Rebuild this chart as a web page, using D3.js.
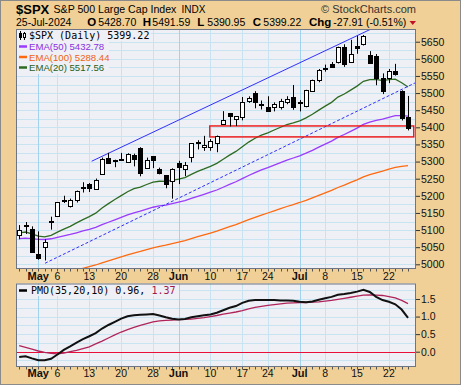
<!DOCTYPE html>
<meta charset="utf-8">
<style>
body { margin: 0; }
text { font-family: "Liberation Sans", Arial, sans-serif; }
.mono { font-family: "DejaVu Sans Mono", monospace; }
</style>
<svg width="461" height="385"></svg>
<script src="https://cdn.jsdelivr.net/npm/d3@7/dist/d3.min.js"></script>
<script>

// trading days shown
var dates = ["2024-04-26","2024-04-29","2024-04-30",
  "2024-05-01","2024-05-02","2024-05-03","2024-05-06","2024-05-07","2024-05-08","2024-05-09","2024-05-10",
  "2024-05-13","2024-05-14","2024-05-15","2024-05-16","2024-05-17","2024-05-20","2024-05-21","2024-05-22",
  "2024-05-23","2024-05-24","2024-05-28","2024-05-29","2024-05-30","2024-05-31",
  "2024-06-03","2024-06-04","2024-06-05","2024-06-06","2024-06-07","2024-06-10","2024-06-11","2024-06-12",
  "2024-06-13","2024-06-14","2024-06-17","2024-06-18","2024-06-20","2024-06-21","2024-06-24","2024-06-25",
  "2024-06-26","2024-06-27","2024-06-28",
  "2024-07-01","2024-07-02","2024-07-03","2024-07-05","2024-07-08","2024-07-09","2024-07-10","2024-07-11",
  "2024-07-12","2024-07-15","2024-07-16","2024-07-17","2024-07-18","2024-07-19","2024-07-22","2024-07-23",
  "2024-07-24","2024-07-25"]

var open = [5084.65,5114.13,5103.78,5029.03,5049.32,5122.78,5142.42,5187.20,5168.98,5189.03,5225.49,
  5233.08,5221.10,5263.26,5310.07,5303.10,5305.35,5298.69,5319.28,5340.26,5281.45,5315.91,5278.73,
  5259.77,5243.21,5297.15,5278.24,5314.48,5357.80,5343.81,5341.22,5353.00,5409.13,5441.93,5424.08,
  5431.11,5476.15,5499.99,5466.77,5459.58,5460.73,5460.71,5473.59,5488.48,5471.08,5461.84,5507.44,
  5537.91,5572.75,5584.24,5591.26,5635.21,5590.76,5638.16,5644.09,5610.07,5608.56,5543.37,5544.26,
  5565.30,5505.84,5428.70]
var high = [5114.62,5123.49,5110.83,5096.12,5073.21,5139.12,5181.00,5200.23,5191.95,5215.30,5239.66,
  5237.26,5250.37,5311.76,5325.49,5305.45,5325.32,5324.32,5323.18,5341.88,5311.65,5315.91,5282.27,
  5260.21,5280.33,5302.11,5298.80,5354.16,5362.35,5375.08,5365.79,5375.95,5447.25,5441.93,5432.39,
  5488.50,5490.38,5505.53,5478.31,5490.66,5472.88,5483.14,5490.81,5523.64,5479.55,5509.69,5539.27,
  5570.33,5583.11,5590.75,5635.39,5642.45,5655.56,5666.94,5669.67,5622.49,5614.05,5557.50,5570.36,
  5585.34,5508.04,5491.59]
var low = [5073.14,5088.65,5035.31,5013.45,5011.05,5101.22,5142.42,5178.96,5165.86,5180.41,5209.68,
  5211.16,5217.98,5263.26,5296.19,5283.59,5302.40,5297.87,5286.01,5256.93,5278.39,5280.89,5262.70,
  5222.10,5191.68,5234.32,5257.63,5297.64,5335.36,5331.33,5331.52,5327.25,5409.13,5402.51,5403.75,
  5420.40,5471.32,5455.56,5452.03,5447.59,5446.56,5451.87,5467.54,5451.12,5446.53,5458.43,5507.42,
  5531.63,5562.51,5574.57,5586.44,5576.53,5590.44,5614.75,5639.02,5584.81,5522.81,5497.04,5529.04,
  5550.90,5419.98,5390.95]
var close = [5099.96,5116.17,5035.69,5018.39,5064.20,5127.79,5180.74,5187.70,5187.67,5214.08,5222.68,
  5221.42,5246.68,5308.15,5297.10,5303.27,5308.13,5321.41,5307.01,5267.84,5304.72,5306.04,5266.95,
  5235.48,5277.51,5283.40,5291.34,5354.03,5352.96,5346.99,5360.79,5375.32,5421.03,5433.74,5431.60,
  5473.23,5487.03,5473.17,5464.62,5447.87,5469.30,5477.90,5482.87,5460.48,5475.09,5509.01,5537.02,
  5567.19,5572.85,5576.98,5633.91,5584.54,5615.35,5631.22,5667.20,5588.27,5544.59,5505.00,5564.41,
  5555.74,5427.13,5399.22]

var ema20 = [5092.0,5094.3,5088.7,5082.0,5080.3,5084.8,5094.0,5102.9,5110.9,5120.8,5130.5,5139.1,
  5149.4,5164.5,5177.1,5189.1,5200.4,5212.0,5221.0,5225.5,5233.0,5240.0,5242.5,5241.9,5245.3,5248.9,
  5253.0,5262.6,5271.2,5278.4,5286.2,5294.7,5306.7,5318.8,5329.6,5343.2,5356.9,5368.0,5377.2,5383.9,
  5392.1,5400.2,5408.1,5413.1,5419.0,5427.6,5438.0,5450.3,5462.0,5472.9,5488.2,5497.4,5508.6,5520.3,
  5534.3,5539.4,5539.9,5536.6,5539.2,5540.8,5530.0,5517.56]
var ema50 = [5075.0,5076.6,5075.0,5072.8,5072.5,5074.6,5078.8,5083.1,5087.2,5092.1,5097.3,5102.1,
  5107.8,5115.7,5122.8,5129.8,5136.8,5144.1,5150.5,5155.1,5160.9,5166.6,5170.6,5173.1,5177.2,5181.4,
  5185.7,5192.3,5198.6,5204.4,5210.5,5217.0,5225.0,5233.2,5241.0,5250.1,5259.4,5267.8,5275.5,5282.2,
  5289.6,5297.0,5304.3,5310.4,5316.9,5324.4,5332.8,5342.0,5351.0,5359.9,5370.6,5379.0,5388.3,5397.8,
  5408.4,5415.4,5420.5,5423.8,5429.3,5434.3,5434.0,5432.78]
var ema100 = [4955.0,4958.2,4959.7,4960.9,4962.9,4966.2,4970.4,4974.7,4979.0,4983.6,4988.3,4993.0,
  4998.0,5004.1,5009.9,5015.7,5021.5,5027.5,5033.0,5037.7,5042.9,5048.2,5052.5,5056.1,5060.5,5064.9,
  5069.4,5075.1,5080.6,5085.8,5091.3,5096.9,5103.3,5109.9,5116.2,5123.3,5130.5,5137.3,5143.7,5149.8,
  5156.1,5162.5,5168.8,5174.6,5180.5,5187.0,5194.0,5201.4,5208.7,5216.0,5224.3,5231.4,5239.0,5246.8,
  5255.1,5261.7,5267.3,5272.0,5277.8,5283.3,5286.2,5288.44]

var pmo = [-0.15,-0.13,-0.19,-0.24,-0.24,-0.20,-0.08,0.05,0.15,0.26,0.36,0.44,0.53,0.66,0.76,0.85,
  0.94,1.01,1.04,1.05,1.06,1.07,1.03,0.98,0.94,0.92,0.93,0.98,1.01,1.04,1.06,1.11,1.18,1.25,1.30,
  1.39,1.45,1.47,1.47,1.47,1.47,1.46,1.46,1.45,1.42,1.41,1.43,1.48,1.52,1.56,1.62,1.64,1.67,1.71,
  1.76,1.70,1.56,1.47,1.42,1.35,1.20,0.96]
var pmoSignal = [0.17,0.12,0.07,0.02,-0.02,-0.05,-0.06,-0.04,0.00,0.04,0.09,0.14,0.22,0.30,0.39,0.48,
  0.56,0.63,0.69,0.75,0.80,0.85,0.88,0.89,0.90,0.91,0.92,0.93,0.95,0.97,1.00,1.03,1.07,1.10,1.13,
  1.17,1.22,1.26,1.29,1.32,1.34,1.36,1.38,1.39,1.40,1.40,1.41,1.42,1.44,1.46,1.49,1.52,1.55,1.58,
  1.61,1.62,1.61,1.60,1.57,1.53,1.46,1.37]

// annotations drawn on the chart: [day index, price]
var upperTrend = [[11.37, 5301], [56.0, 5694]]
var lowerTrend = [[4.05, 5003], [62.25, 5531]]
var supportZone = {from: 29.9, to: 61.9, lo: 5372, hi: 5404}

var priceTicks = [5000,5050,5100,5150,5200,5250,5300,5350,5400,5450,5500,5550,5600,5650]
var pmoTicks = [0.0, 0.5, 1.0, 1.5]
var dateTicks = [
  {d: "2024-05-01", label: "May", month: true},
  {d: "2024-05-06", label: "6"},
  {d: "2024-05-13", label: "13"},
  {d: "2024-05-20", label: "20"},
  {d: "2024-05-28", label: "28"},
  {d: "2024-06-03", label: "Jun", month: true},
  {d: "2024-06-10", label: "10"},
  {d: "2024-06-17", label: "17"},
  {d: "2024-06-24", label: "24"},
  {d: "2024-07-01", label: "Jul", month: true},
  {d: "2024-07-08", label: "8"},
  {d: "2024-07-15", label: "15"},
  {d: "2024-07-22", label: "22"}
]

var W = 461, H = 385
var L = 16, R = 416
var mainTop = 29, mainBot = 269
var pTop = 283.5, pBot = 367

var bgTan = "#F0D096", plotBg = "#EEF0F6"
var gridC = "#C9E4F1", monthC = "#A2D2EC", frameC = "#6E7585"

var svg = d3.select("svg")

svg.append("rect").attr("width", W).attr("height", H).attr("fill", bgTan)
svg.append("rect").attr("x", 0.5).attr("y", 0.5).attr("width", W - 1).attr("height", H - 1)
  .attr("fill", "none").attr("stroke", "#8a8a8a")

var x = d3.scaleLinear().domain([-0.5, 62.25]).range([L, R])
var y = d3.scaleLinear().domain([4986.3, 5687.1]).range([mainBot, mainTop])
var yp = d3.scaleLinear().domain([-0.4355, 1.941]).range([pBot, pTop])

var idx = {}
dates.forEach(function(d, i) { idx[d] = i })
dateTicks.forEach(function(t) { t.i = idx[t.d] })

function px(v) { return Math.round(v) + 0.5 }

svg.append("clipPath").attr("id", "clipMain").append("rect")
  .attr("x", L).attr("y", mainTop).attr("width", R - L).attr("height", mainBot - mainTop)
svg.append("clipPath").attr("id", "clipPmo").append("rect")
  .attr("x", L).attr("y", pTop).attr("width", R - L).attr("height", pBot - pTop)

// ---------- panels
function panel(top, bot, gridVals, scale, ticks, fmt, clipId) {
  svg.append("rect").attr("x", L).attr("y", top).attr("width", R - L).attr("height", bot - top)
    .attr("fill", plotBg)

  var g = svg.append("g").attr("clip-path", "url(#" + clipId + ")")
  g.selectAll(".hg").data(gridVals).enter().append("line")
    .attr("x1", L).attr("x2", R)
    .attr("y1", function(d) { return px(scale(d)) })
    .attr("y2", function(d) { return px(scale(d)) })
    .attr("stroke", gridC).attr("stroke-width", 1)
  g.selectAll(".vg").data(dateTicks).enter().append("line")
    .attr("y1", top).attr("y2", bot)
    .attr("x1", function(d) { return px(x(d.i)) })
    .attr("x2", function(d) { return px(x(d.i)) })
    .attr("stroke", function(d) { return d.month ? monthC : gridC }).attr("stroke-width", 1)

  // right axis
  var ax = svg.append("g").attr("transform", "translate(" + R + ",0)")
    .call(d3.axisRight(scale).tickValues(ticks).tickSize(4).tickPadding(1).tickFormat(fmt))
  ax.select(".domain").remove()
  ax.selectAll("line").attr("stroke", "#333")
  ax.selectAll("text").attr("font-size", "10.5px").attr("fill", "#111")
    .style("font-family", "Liberation Sans, Arial, sans-serif")

  // day ticks along the bottom
  svg.append("g").selectAll("line").data(dates).enter().append("line")
    .attr("x1", function(d, i) { return px(x(i)) }).attr("x2", function(d, i) { return px(x(i)) })
    .attr("y1", bot).attr("y2", bot + 2.5).attr("stroke", "#555")

  return g
}

function framePanel(top, bot) {
  svg.append("rect").attr("x", L + 0.5).attr("y", top + 0.5).attr("width", R - L - 1).attr("height", bot - top - 1)
    .attr("fill", "none").attr("stroke", frameC)
}

function dateLabels(baseline) {
  svg.append("g").selectAll("text").data(dateTicks).enter().append("text")
    .attr("x", function(d) { return x(d.i) })
    .attr("y", baseline)
    .attr("text-anchor", "middle")
    .attr("font-size", function(d) { return d.month ? "11px" : "10.5px" })
    .attr("font-weight", function(d) { return d.month ? "bold" : "normal" })
    .attr("fill", "#111")
    .text(function(d) { return d.label })
}

// ---------- main price panel
var mainGrid = d3.range(priceTicks[0] - 25, 5700, 25)
var gm = panel(mainTop, mainBot, mainGrid, y, priceTicks, d3.format("d"), "clipMain")

var line = function(arr) {
  return d3.line().x(function(d, i) { return x(i) }).y(function(d) { return y(d) })(arr)
}
gm.append("path").attr("d", line(ema100)).attr("fill", "none").attr("stroke", "#FF6A10").attr("stroke-width", 1.3)
gm.append("path").attr("d", line(ema50)).attr("fill", "none").attr("stroke", "#9A3BFF").attr("stroke-width", 1.3)
gm.append("path").attr("d", line(ema20)).attr("fill", "none").attr("stroke", "#2E6B22").attr("stroke-width", 1.3)

gm.append("line")
  .attr("x1", x(upperTrend[0][0])).attr("y1", y(upperTrend[0][1]))
  .attr("x2", x(upperTrend[1][0])).attr("y2", y(upperTrend[1][1]))
  .attr("stroke", "#2F2FFF").attr("stroke-width", 1)
gm.append("line")
  .attr("x1", x(lowerTrend[0][0])).attr("y1", y(lowerTrend[0][1]))
  .attr("x2", x(lowerTrend[1][0])).attr("y2", y(lowerTrend[1][1]))
  .attr("stroke", "#2F2FFF").attr("stroke-width", 1).attr("stroke-dasharray", "3,2")

gm.append("rect")
  .attr("x", x(supportZone.from)).attr("y", y(supportZone.hi))
  .attr("width", x(supportZone.to) - x(supportZone.from))
  .attr("height", y(supportZone.lo) - y(supportZone.hi))
  .attr("fill", "none").attr("stroke", "#F01010").attr("stroke-width", 1.4)

// candles
var candles = gm.selectAll(".candle").data(dates).enter().append("g")
candles.append("line")
  .attr("x1", function(d, i) { return px(x(i)) }).attr("x2", function(d, i) { return px(x(i)) })
  .attr("y1", function(d, i) { return y(high[i]) }).attr("y2", function(d, i) { return y(low[i]) })
  .attr("stroke", "#000").attr("stroke-width", 1)
candles.append("rect")
  .attr("x", function(d, i) { return Math.round(x(i)) - 2 + 0.5 })
  .attr("width", 4)
  .attr("y", function(d, i) { return Math.round(y(Math.max(open[i], close[i]))) + 0.5 })
  .attr("height", function(d, i) {
    return Math.max(1, Math.round(y(Math.min(open[i], close[i]))) - Math.round(y(Math.max(open[i], close[i]))))
  })
  .attr("fill", function(d, i) { return close[i] < open[i] ? "#000" : "#fff" })
  .attr("stroke", "#000").attr("stroke-width", 1)

framePanel(mainTop, mainBot)
dateLabels(280)

// legend
var last = dates.length - 1
var leg = svg.append("g")
leg.append("rect").attr("x", 17).attr("y", 30).attr("width", 134).attr("height", 11).attr("fill", plotBg)
leg.append("rect").attr("x", 17).attr("y", 41).attr("width", 92).attr("height", 33).attr("fill", plotBg)
// little candle icon
leg.append("line").attr("x1", 20.5).attr("x2", 20.5).attr("y1", 31).attr("y2", 40).attr("stroke", "#000")
leg.append("rect").attr("x", 19.5).attr("y", 33.5).attr("width", 2).attr("height", 4).attr("fill", "#000").attr("stroke", "#000")
leg.append("line").attr("x1", 24.5).attr("x2", 24.5).attr("y1", 32).attr("y2", 40).attr("stroke", "#000")
leg.append("rect").attr("x", 23.5).attr("y", 33.5).attr("width", 2).attr("height", 4).attr("fill", "#fff").attr("stroke", "#000")
leg.append("text").attr("class", "mono").attr("x", 29).attr("y", 38.5).attr("font-size", "10px")
  .attr("fill", "#000").text("$SPX (Daily) " + close[last].toFixed(2))

var emaLeg = [
  {name: "EMA(50)", v: ema50[last], c: "#9A3BFF", t: "#8B2FE0"},
  {name: "EMA(100)", v: ema100[last], c: "#FF6A10", t: "#F06010"},
  {name: "EMA(20)", v: ema20[last], c: "#2E6B22", t: "#1F5F18"}
]
emaLeg.forEach(function(e, k) {
  var by = 50 + k * 10.5
  leg.append("line").attr("x1", 19).attr("x2", 27).attr("y1", by - 3.5).attr("y2", by - 3.5)
    .attr("stroke", e.c).attr("stroke-width", 2.5)
  leg.append("text").attr("x", 29).attr("y", by).attr("font-size", "9.6px").attr("fill", e.t)
    .text(e.name + " " + e.v.toFixed(2))
})

// ---------- PMO panel
var pmoGrid = d3.range(-0.25, 2.0, 0.25)
var gp = panel(pTop, pBot, pmoGrid, yp, pmoTicks, d3.format(".1f"), "clipPmo")
gp.append("line").attr("x1", L).attr("x2", R).attr("y1", px(yp(0))).attr("y2", px(yp(0)))
  .attr("stroke", "#E8103A").attr("stroke-width", 1.2)
var pline = d3.line().x(function(d, i) { return x(i) }).y(function(d) { return yp(d) })
gp.append("path").attr("d", pline(pmoSignal)).attr("fill", "none").attr("stroke", "#B0245A").attr("stroke-width", 1.3)
gp.append("path").attr("d", pline(pmo)).attr("fill", "none").attr("stroke", "#111").attr("stroke-width", 2)
framePanel(pTop, pBot)
dateLabels(377)

var pl = svg.append("g")
pl.append("rect").attr("x", 17).attr("y", 285).attr("width", 162).attr("height", 11).attr("fill", plotBg)
pl.append("line").attr("x1", 19).attr("x2", 27).attr("y1", 290.5).attr("y2", 290.5).attr("stroke", "#000").attr("stroke-width", 2.5)
var pt = pl.append("text").attr("class", "mono").attr("x", 31).attr("y", 294).attr("font-size", "10px")
pt.append("tspan").attr("fill", "#000").text("PMO(35,20,10) " + pmo[last].toFixed(2) + ", ")
pt.append("tspan").attr("fill", "#A01848").text(pmoSignal[last].toFixed(2))

// ---------- header
var hd = svg.append("g")
hd.append("text").attr("x", 16).attr("y", 13.5).attr("font-size", "13px").attr("font-weight", "bold").attr("fill", "#000").text("$SPX")
hd.append("text").attr("x", 53.5).attr("y", 13).attr("font-size", "10.6px").attr("fill", "#000").text("S&P 500 Large Cap Index")
hd.append("text").attr("x", 181.5).attr("y", 13).attr("font-size", "10px").attr("fill", "#000").text("INDX")
hd.append("text").attr("x", 416).attr("y", 13).attr("text-anchor", "end").attr("font-size", "11px").attr("fill", "#333").text("\u00A9 StockCharts.com")

var chg = close[last] - close[last - 1]
var pct = chg / close[last - 1] * 100
var lastDate = d3.timeFormat("%d-%b-%Y")(d3.timeParse("%Y-%m-%d")(dates[last]))
var hdr2 = [
  {x: 16, t: lastDate, b: false},
  {x: 87.3, t: "O", b: true}, {x: 98.3, t: open[last].toFixed(2), b: false},
  {x: 142.7, t: "H", b: true}, {x: 152.3, t: high[last].toFixed(2), b: false},
  {x: 197.3, t: "L", b: true}, {x: 207.3, t: low[last].toFixed(2), b: false},
  {x: 252.7, t: "C", b: true}, {x: 263.3, t: close[last].toFixed(2), b: false},
  {x: 309, t: "Chg", b: true}, {x: 333.3, t: chg.toFixed(2) + " (" + pct.toFixed(2) + "%)", b: false}
]
hdr2.forEach(function(h) {
  hd.append("text").attr("x", h.x).attr("y", 26).attr("fill", "#000")
    .attr("font-size", h.b ? "11.5px" : "10.5px").attr("font-weight", h.b ? "bold" : "normal").text(h.t)
})
hd.append("path").attr("d", "M409.5,21 L416,21 L412.75,25 Z").attr("fill", chg < 0 ? "#C0102A" : "#108020")

</script>
